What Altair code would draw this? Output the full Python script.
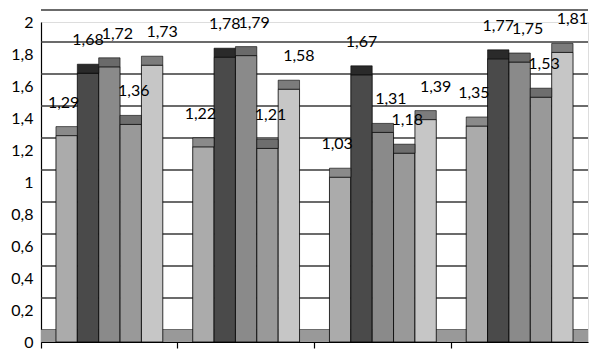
import altair as alt
import pandas as pd

groups = ["G1", "G2", "G3", "G4"]
series = ["S1", "S2", "S3", "S4", "S5"]
s1 = [1.29, 1.22, 1.03, 1.35]
s2 = [1.68, 1.78, 1.67, 1.77]
s3 = [1.72, 1.79, 1.31, 1.75]
s4 = [1.36, 1.21, 1.18, 1.53]
s5 = [1.73, 1.58, 1.39, 1.81]
face_colors = ["#ababab", "#4a4a4a", "#8a8a8a", "#999999", "#c6c6c6"]
cap_colors = ["#8a8a8a", "#2a2a2a", "#6a6a6a", "#6e6e6e", "#7c7c7c"]
label_dx = [-3, 0, 8, 3, 10]
y_ticks = [0, 0.2, 0.4, 0.6, 0.8, 1.0, 1.2, 1.4, 1.6, 1.8, 2.0]

rows = []
for sname, vals in zip(series, [s1, s2, s3, s4, s5]):
    for g, v in zip(groups, vals):
        rows.append({"group": g, "series": sname, "value": v,
                     "label": f"{v:.2f}".replace(".", ",")})
df = pd.DataFrame(rows)
grid_df = pd.DataFrame({"v": y_ticks})

FONT = "Lato"
yscale = alt.Scale(domain=[0, 2], nice=False)

x_enc = alt.X("group:N", sort=groups,
              scale=alt.Scale(paddingInner=0, paddingOuter=0),
              axis=alt.Axis(labels=False, title=None, bandPosition=0, tickSize=6,
                            domainColor="black", tickColor="black", grid=False,
                            domainWidth=1.2, tickWidth=1.2))
xo_enc = alt.XOffset("series:N", sort=series,
                     scale=alt.Scale(paddingOuter=0.7, paddingInner=0))
y_axis = alt.Axis(values=y_ticks, format="~g",
                  labelExpr="replace(datum.label, '.', ',')",
                  labelOverlap=False,
                  labelFontSize=16, labelFont=FONT, labelColor="black",
                  ticks=False, grid=False, domainColor="black", title=None,
                  labelPadding=8, domainWidth=1.2)


def yenc(field):
    return alt.Y(field, scale=yscale, axis=y_axis)


grid = alt.Chart(grid_df).mark_rule(yOffset=-12, color="#3a3a3a", strokeWidth=1.5).encode(
    y=yenc("v:Q")
)

floor = alt.Chart(grid_df).transform_filter("datum.v == 0").mark_rect(
    y2Offset=-12, color="#999999"
).encode(
    y=yenc("v:Q"),
    y2="v:Q",
)

color_enc = alt.Color("series:N", sort=series,
                      scale=alt.Scale(domain=series, range=face_colors), legend=None)

base = alt.Chart(df)

bars = base.mark_bar(stroke="black", strokeWidth=0.8).encode(
    x=x_enc, xOffset=xo_enc,
    y=yenc("value:Q"),
    color=color_enc,
)

caps = base.mark_bar(stroke="black", strokeWidth=0.6, y2Offset=-9, xOffset=2).encode(
    x=x_enc, xOffset=xo_enc,
    y=yenc("value:Q"),
    y2="value:Q",
    fill=alt.Fill("series:N", sort=series,
                  scale=alt.Scale(domain=series, range=cap_colors), legend=None),
)

label_layers = []
for sname, dx in zip(series, label_dx):
    label_layers.append(
        base.transform_filter(alt.datum.series == sname)
        .mark_text(dy=-33, dx=dx, fontSize=16, font=FONT, color="black")
        .encode(
            x=x_enc, xOffset=xo_enc,
            y=yenc("value:Q"),
            text="label:N",
        )
    )

chart = alt.layer(grid, floor, bars, caps, *label_layers).resolve_scale(
    color="independent", fill="independent"
).properties(
    width=547, height=320,
    autosize=alt.AutoSizeParams(type="none"),
    padding={"left": 33, "top": 14, "right": 2, "bottom": 8},
).configure_view(stroke=None).configure(background="white")

chart.save("out.html", embed_options={"renderer": "svg", "actions": False})
